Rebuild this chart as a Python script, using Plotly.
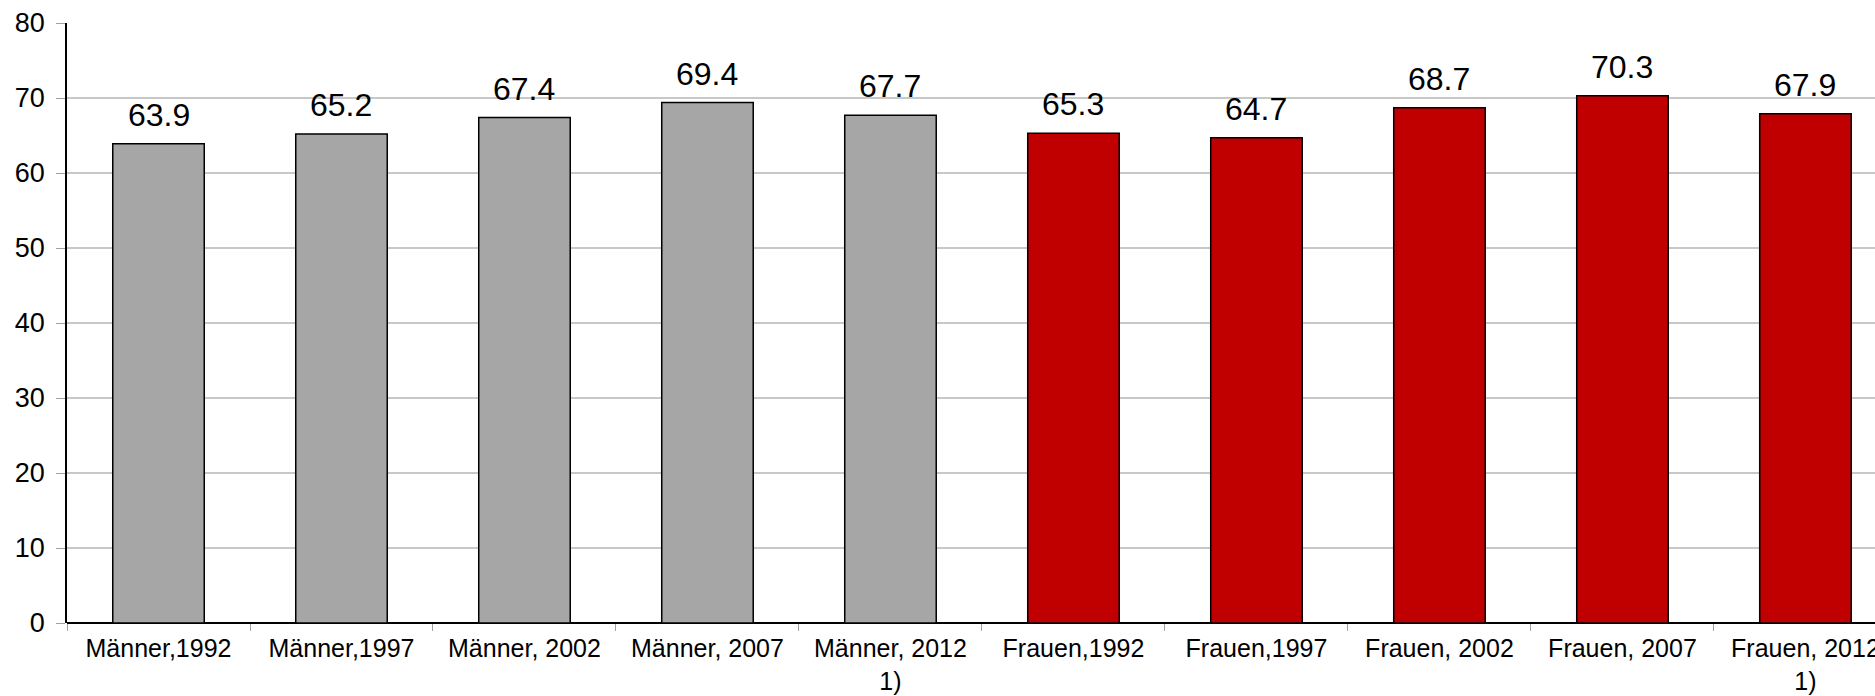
import plotly.graph_objects as go

# Categories (sex, survey year) and their values
categories = [
    "Männer,1992", "Männer,1997", "Männer, 2002", "Männer, 2007", "Männer, 2012<br>1)",
    "Frauen,1992", "Frauen,1997", "Frauen, 2002", "Frauen, 2007", "Frauen, 2012<br>1)",
]
values = [63.9, 65.2, 67.4, 69.4, 67.7, 65.3, 64.7, 68.7, 70.3, 67.9]
bar_colors = ["#a6a6a6"] * 5 + ["#c00000"] * 5
y_ticks = [0, 10, 20, 30, 40, 50, 60, 70, 80]

FONT = "Liberation Sans, Arial, sans-serif"

fig = go.Figure()
fig.add_trace(go.Bar(
    x=categories,
    y=values,
    marker=dict(color=bar_colors, line=dict(color="#000000", width=1.5)),
    width=0.5,
    hoverinfo="x+y",
))

for cat, val in zip(categories, values):
    fig.add_annotation(
        x=cat, y=val, text=f"{val:.1f}", showarrow=False,
        xanchor="center", yanchor="bottom", yshift=9,
        font=dict(family=FONT, size=32, color="#000000"),
    )

fig.update_layout(
    width=1875, height=696, autosize=False,
    margin=dict(l=67, r=0, t=23, b=73),
    paper_bgcolor="white", plot_bgcolor="white",
    showlegend=False,
    font=dict(family=FONT, color="#000000"),
    bargap=0.5,
)

fig.update_xaxes(
    type="category",
    range=[-0.5, 9.38],
    tickson="boundaries",
    ticks="outside", ticklen=7, tickcolor="#a0a0a0", tickwidth=1,
    ticklabelstandoff=8,
    showline=False,
    showgrid=False,
    tickfont=dict(family=FONT, size=25, color="#000000"),
    automargin=False,
)

fig.update_yaxes(
    range=[0, 80],
    tickvals=y_ticks,
    ticks="outside", ticklen=9, tickcolor="#a0a0a0", tickwidth=1,
    ticklabelstandoff=6,
    showline=True, linecolor="#000000", linewidth=1.5,
    showgrid=True, gridcolor="#c8c8c8", gridwidth=1.5,
    zeroline=True, zerolinecolor="#000000", zerolinewidth=1.5,
    tickfont=dict(family=FONT, size=27, color="#000000"),
    automargin=False,
)

fig.write_html("out.html")
